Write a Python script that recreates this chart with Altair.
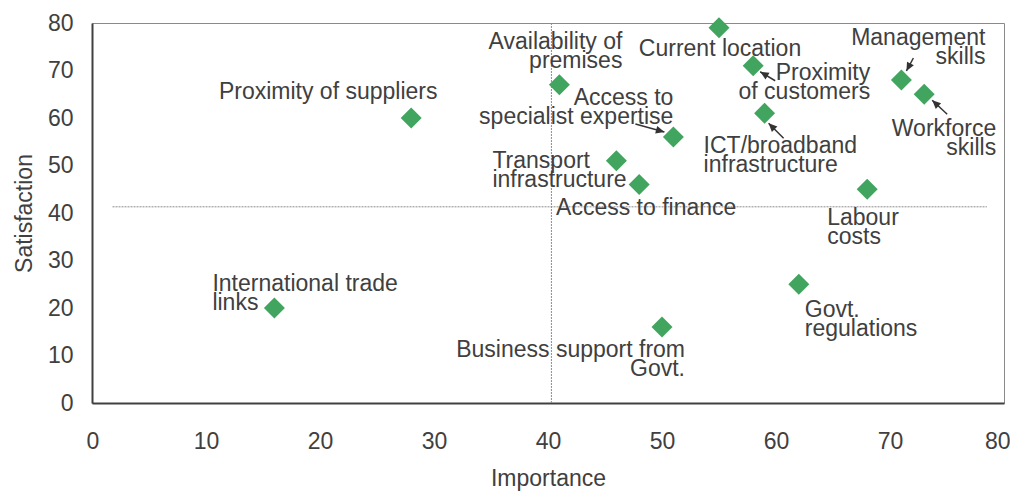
import math
import altair as alt
import pandas as pd

# ---- data ----
factors = [
    "Current location",
    "Availability of\npremises",
    "Proximity of suppliers",
    "Proximity\nof customers",
    "Management\nskills",
    "Workforce\nskills",
    "ICT/broadband\ninfrastructure",
    "Access to\nspecialist expertise",
    "Transport\ninfrastructure",
    "Access to finance",
    "Labour\ncosts",
    "Govt.\nregulations",
    "International trade\nlinks",
    "Business support from\nGovt.",
]
importance = [55, 41, 28, 58, 71, 73, 59, 51, 46, 48, 68, 62, 16, 50]
satisfaction = [79, 67, 60, 71, 68, 65, 61, 56, 51, 46, 45, 25, 20, 16]

# reference (average) lines
ref_importance = 40.3
ref_satisfaction = 41.3
ref_h_from = 1.8
ref_h_to = 78.5

x_ticks = [0, 10, 20, 30, 40, 50, 60, 70, 80]
y_ticks = [0, 10, 20, 30, 40, 50, 60, 70, 80]

# ---- label layout (pixel offsets of the first text line from each point) ----
label_layout = [
    (1, 21, "center"),
    (63, -43, "right"),
    (-83, -26, "center"),
    (117, 7, "right"),
    (84, -42, "right"),
    (72, 35, "right"),
    (-61, 33, "left"),
    (0, -39, "right"),
    (-124, 0, "left"),
    (7, 23, "center"),
    (-40, 29, "left"),
    (6, 26, "left"),
    (-62, -24, "left"),
    (23, 23, "right"),
]
# arrows: index of point, tail offset, tip offset (pixels)
arrows = [
    (3, (22, 15), (7, 6)),
    (6, (19, 25), (4, 10)),
    (7, (-38, -13), (-9, -5)),
    (4, (12, -22), (5, -9)),
    (5, (23, 20), (8, 6)),
]

FONT = "Liberation Sans"
TXT = "#404040"
GREEN = "#41A55F"
FS = 23

df = pd.DataFrame({"factor": factors, "importance": importance, "satisfaction": satisfaction})
df["id"] = range(len(df))

xs = alt.Scale(domain=[0, 80], nice=False, zero=False)
ys = alt.Scale(domain=[0, 80], nice=False, zero=False)

X = alt.X("importance:Q", scale=xs,
          axis=alt.Axis(values=x_ticks, title="Importance", labelPadding=27, titlePadding=14,
                        labelFlush=True, labelFlushOffset=6))
Y = alt.Y("satisfaction:Q", scale=ys,
          axis=alt.Axis(values=y_ticks, title="Satisfaction", labelPadding=19, titlePadding=11,
                        labelFlush=False))

base = alt.Chart(df)

ref_v = alt.Chart(pd.DataFrame({"x": [ref_importance], "y0": [0], "y1": [80]})).mark_rule(
    color="#8c8c8c", strokeWidth=1, strokeDash=[2, 1]
).encode(x=alt.X("x:Q", scale=xs), y=alt.Y("y0:Q", scale=ys), y2="y1:Q")

ref_h = alt.Chart(pd.DataFrame({"y": [ref_satisfaction], "x0": [ref_h_from], "x1": [ref_h_to]})).mark_rule(
    color="#8c8c8c", strokeWidth=1, strokeDash=[2, 1]
).encode(y=alt.Y("y:Q", scale=ys), x=alt.X("x0:Q", scale=xs), x2="x1:Q")

layers = [ref_v, ref_h]

arrow_head = "M0,0 L1,2.2 L-1,2.2 Z"
for idx, (tx, ty), (hx, hy) in arrows:
    sub = base.transform_filter(alt.datum.id == idx)
    line = sub.mark_rule(color="#333333", strokeWidth=1.5,
                         xOffset=tx, yOffset=ty, x2Offset=hx, y2Offset=hy).encode(
        x=alt.X("importance:Q", scale=xs), x2="importance:Q",
        y=alt.Y("satisfaction:Q", scale=ys), y2="satisfaction:Q")
    ang = math.degrees(math.atan2(hx - tx, -(hy - ty))) % 360
    head = sub.mark_point(shape=arrow_head, size=60, filled=True, color="#333333", opacity=1,
                          strokeWidth=0, angle=ang, xOffset=hx, yOffset=hy).encode(
        x=alt.X("importance:Q", scale=xs), y=alt.Y("satisfaction:Q", scale=ys))
    layers += [line, head]

points = base.mark_point(shape="diamond", size=440, filled=True, color=GREEN, opacity=1,
                         strokeWidth=0).encode(x=X, y=Y)
layers.append(points)

for i, (dx, dy, al) in enumerate(label_layout):
    t = base.transform_filter(alt.datum.id == i).mark_text(
        font=FONT, fontSize=FS, color=TXT, align=al, baseline="middle",
        dx=dx, dy=dy, lineBreak="\n", lineHeight=19
    ).encode(x=alt.X("importance:Q", scale=xs), y=alt.Y("satisfaction:Q", scale=ys),
             text="factor:N")
    layers.append(t)

chart = alt.layer(*layers).properties(
    width=912, height=380,
    autosize=alt.AutoSizeParams(type="none"),
    padding={"left": 84, "top": 15, "right": 6, "bottom": 88},
).configure_view(stroke="#8a8a8a", strokeWidth=1).configure_axis(
    grid=False, ticks=False, domainColor="#404040", domainWidth=2,
    labelFont=FONT, labelFontSize=FS, labelColor=TXT,
    titleFont=FONT, titleFontSize=FS, titleFontWeight="normal", titleColor=TXT,
)

chart.save("out.html", embed_options={"renderer": "svg", "actions": False})
